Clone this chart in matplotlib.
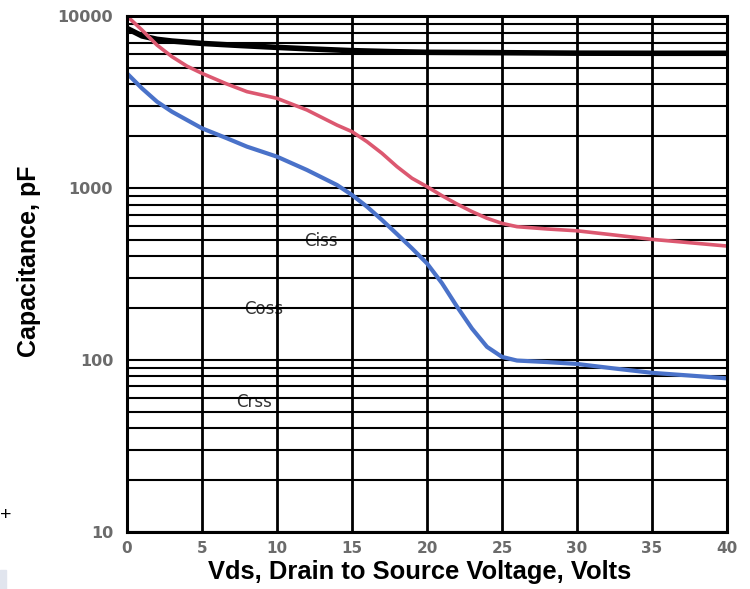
import numpy as np
import matplotlib
matplotlib.use("Agg")
import matplotlib.pyplot as plt
from matplotlib.ticker import LogLocator, FixedLocator, NullFormatter

# capacitance vs drain-source voltage (pF)
vds_ciss = [0, 1, 2, 3, 5, 7.5, 10, 12.5, 15, 17.5, 20, 25, 30, 35, 40]
ciss = [8480, 7660, 7320, 7150, 6930, 6740, 6570, 6420, 6290, 6210, 6150, 6120, 6080, 6070, 6070]

vds_coss = [0, 1, 2, 3, 4, 5, 6.67, 8, 10, 12, 14, 15, 16, 17, 18, 19, 20,
            21, 22, 23, 24, 25, 26, 28, 30, 32.5, 35, 37.5, 40]
coss = [10000, 8290, 6780, 5800, 5110, 4640, 4020, 3630, 3320, 2840, 2320, 2125, 1858,
        1590, 1330, 1138, 1017, 901, 806, 728, 666, 622, 595, 577, 563, 532, 502, 480, 459]

vds_crss = [0, 1, 2, 3, 4, 5, 6.67, 8, 10, 12, 14, 15, 16, 17, 18, 19, 20,
            21, 22, 23, 24, 25, 26, 28, 30, 32.5, 35, 37.5, 40]
crss = [4640, 3795, 3175, 2775, 2483, 2222, 1943, 1738, 1520, 1271, 1040, 910, 778,
        651, 539, 445, 364, 279, 204, 152, 119, 104, 99, 97, 94.6, 89, 84, 81, 78]

labels = ["Ciss", "Coss", "Crss"]
label_x = [12.9, 9.1, 8.5]
label_y = [491, 198, 57]

xticks = [0, 5, 10, 15, 20, 25, 30, 35, 40]
yticks = [10, 100, 1000, 10000]

plt.rcParams['font.family'] = ['Liberation Sans', 'DejaVu Sans']

fig = plt.figure(figsize=(7.5, 5.89), dpi=100)
ax = fig.add_axes([0.1693, 0.0973, 0.8, 0.8755])

ax.set_yscale("log")
ax.set_xlim(0, 40)
ax.set_ylim(10, 10000)

# grid: every minor decade step horizontally, every 5 V vertically
ax.yaxis.set_major_locator(FixedLocator(yticks))
ax.yaxis.set_minor_locator(LogLocator(base=10, subs=np.arange(2, 10)))
ax.yaxis.set_minor_formatter(NullFormatter())
ax.set_yticklabels([str(v) for v in yticks])
ax.set_xticks(xticks)
ax.set_xticklabels([str(v) for v in xticks])
ax.grid(True, which="both", axis="y", color="black", linewidth=1.5)
ax.grid(True, which="major", axis="x", color="black", linewidth=2.0)
ax.tick_params(which="both", length=0)
ax.tick_params(axis="y", pad=10, labelsize=11.5, labelcolor="#6b6b6b")
ax.tick_params(axis="x", pad=7, labelsize=11, labelcolor="#6b6b6b")
for t in ax.get_xticklabels() + ax.get_yticklabels():
    t.set_fontweight("bold")
    t.set_family(["DejaVu Sans"])
for s in ax.spines.values():
    s.set_linewidth(2.2)

ax.plot(vds_ciss, ciss, color="black", linewidth=4.0, solid_capstyle="round",
        solid_joinstyle="round")
ax.plot(vds_coss, coss, color="#dc5870", linewidth=2.6, solid_capstyle="round",
        solid_joinstyle="round")
ax.plot(vds_crss, crss, color="#4a72c9", linewidth=3.0, solid_capstyle="round",
        solid_joinstyle="round")

for name, lx, ly in zip(labels, label_x, label_y):
    ax.text(lx, ly, name, fontsize=12, color="#333333", ha="center", va="center",
            family=["DejaVu Sans"], zorder=1)

ax.set_xlabel("Vds, Drain to Source Voltage, Volts", fontsize=18.4, fontweight="bold")
ax.set_ylabel("Capacitance, pF", fontsize=18, fontweight="bold")
ax.xaxis.set_label_coords(0.488, -0.054)
ax.yaxis.set_label_coords(-0.143, 0.525)

fig.text(0.0, 0.125, "+", fontsize=14, color="black", va="center")
fig.patches.append(plt.Rectangle((0, 0), 0.008, 0.033, transform=fig.transFigure,
                                 color="#e1e5ee", zorder=0))

fig.savefig("out.png", dpi=100)
